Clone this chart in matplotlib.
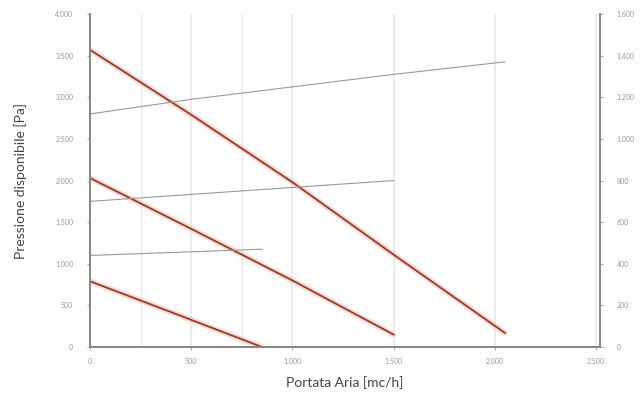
import matplotlib
matplotlib.use('Agg')
import matplotlib.pyplot as plt
import numpy as np

# --- DATA ---
# pressure curves [Pa] vs air flow [mc/h]
p1_q = [0, 500, 1000, 1500, 2050]
p1_p = [3570, 2790, 1980, 1110, 170]
p2_q = [0, 500, 1000, 1500]
p2_p = [2030, 1420, 800, 150]
p3_q = [0, 400, 850]
p3_p = [790, 420, 0]

# power curves [W] on the right axis
w1_q = [0, 500, 1000, 1500, 2050]
w1_w = [1120, 1190, 1250, 1310, 1370]
w2_q = [0, 1500]
w2_w = [700, 800]
w3_q = [0, 850]
w3_w = [440, 470]

x_ticks = [0, 500, 1000, 1500, 2000, 2500]
x_labels = ['0', '500', '1.000', '1.500', '2.000', '2.500']
y_ticks = [0, 500, 1000, 1500, 2000, 2500, 3000, 3500, 4000]
y_labels = ['0', '500', '1.000', '1.500', '2.000', '2.500', '3.000', '3.500', '4.000']
y2_ticks = [0, 200, 400, 600, 800, 1000, 1200, 1400, 1600]
y2_labels = ['0', '200', '400', '600', '800', '1.000', '1.200', '1.400', '1.600']

plt.rcParams['font.family'] = ['Lato', 'DejaVu Sans']

fig = plt.figure(figsize=(6.41, 4.04), dpi=100)
ax = fig.add_axes([0.1404, 0.141, 0.7956, 0.8243])
ax2 = ax.twinx()

# faint vertical grid
for xv in [0, 250, 500, 750, 1000, 1500, 2000, 2500]:
    ax.axvline(xv, color='#e8e8e8', lw=1.2 if xv % 500 == 0 else 0.8, zorder=0)

for q, p in [(p1_q, p1_p), (p2_q, p2_p), (p3_q, p3_p)]:
    ax.plot(q, p, color='#f5c0b2', lw=4, alpha=0.6, solid_capstyle='round', zorder=2)
    ax.plot(q, p, color='#9a3a2c', lw=1.3, zorder=3)

for q, w in [(w1_q, w1_w), (w2_q, w2_w), (w3_q, w3_w)]:
    ax2.plot(q, w, color='#999999', lw=0.8)

ax.set_xlim(0, 2520)
ax.set_ylim(0, 4000)
ax2.set_ylim(0, 1600)

ax.set_xticks(x_ticks, x_labels)
ax.set_yticks(y_ticks, y_labels)
ax2.set_yticks(y2_ticks, y2_labels)

for a in (ax, ax2):
    a.tick_params(labelsize=5, colors='#999999', length=2, width=0.6)
    a.spines['top'].set_visible(False)
    for s in ['left', 'right', 'bottom']:
        a.spines[s].set_color('#888888')
        a.spines[s].set_linewidth(1.4)
ax.tick_params(axis='y', pad=10)
ax.tick_params(axis='x', pad=6)
ax2.tick_params(axis='y', pad=10)

ax.set_xlabel('Portata Aria [mc/h]', fontsize=10, color='#444444', labelpad=8)
ax.set_ylabel('Pressione disponibile [Pa]', fontsize=10, color='#444444', labelpad=20)

fig.savefig('out.png', dpi=100)
